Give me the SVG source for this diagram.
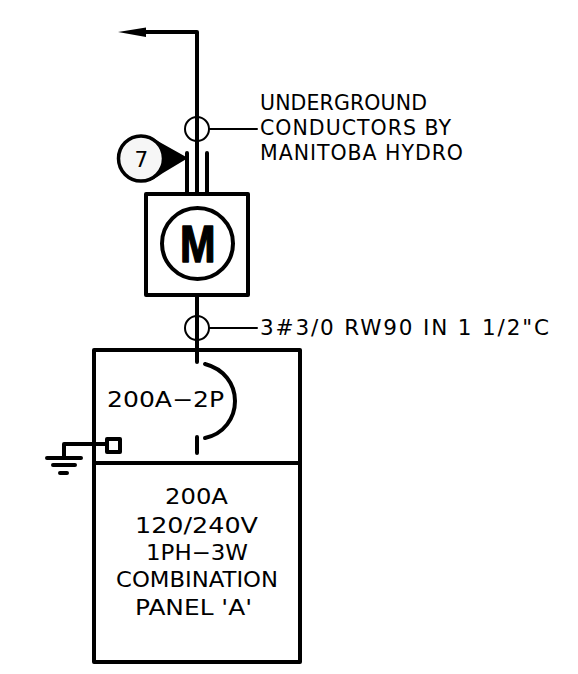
<svg xmlns="http://www.w3.org/2000/svg" width="578" height="674" viewBox="0 0 578 674">
<style>
.t{font-family:"DejaVu Sans",sans-serif;font-size:21.500px;fill:#000}
.u{font-size:20.500px}
.h{fill:none;stroke:#000;stroke-width:4px;stroke-linecap:round;stroke-linejoin:round}
.n{fill:none;stroke:#000;stroke-width:2px;stroke-linecap:round}
</style>
<rect width="578" height="674" fill="#fff"/>
<g id="connectors">
<path class="h" d="M146 32H197V193"/>
<path d="M118 32L146 27.500V37Z" fill="#000"/>
<path class="h" d="M187 153V193M207 153V193"/>
<path class="h" d="M197 295V362M197 437V453"/>
<path class="n" d="M209 129H257M209 328H257"/>
<path class="h" d="M64 457V444H105"/>
<path class="h" d="M47 458H81M53 465H75M60 473H67"/>
</g>
<g id="conduit-upper"><circle cx="197" cy="129" r="12" class="n"/></g>
<g id="conduit-lower"><circle cx="197" cy="328" r="12" class="n"/></g>
<g id="tag-7">
<path d="M141 135C150 135 156 140 163 144L188 158L163 173C156 178 150 182 141 182Z" fill="#000"/>
<circle cx="141" cy="158.500" r="22.500" fill="#f6f6f6" stroke="#000" stroke-width="3.500"/>
<text x="134.500" y="167" class="t">7</text>
</g>
<g id="meter">
<rect x="146" y="194" width="102" height="101" class="h"/>
<circle cx="197.500" cy="243.500" r="35.500" class="h"/>
<text x="180" y="262" textLength="35.500" lengthAdjust="spacingAndGlyphs" style="font-family:'Liberation Sans',Arial,sans-serif;font-size:51px;font-weight:700;stroke:#000;stroke-width:1.500px;stroke-linejoin:round">M</text>
</g>
<g id="panel">
<rect x="94" y="350" width="206" height="312" class="h"/>
<path class="h" d="M94 463H300"/>
</g>
<g id="breaker">
<path class="h" d="M205 364C224 369 235 384 235 401C235 418 224 434 205 438"/>
<text x="107" y="407" class="t" textLength="117" lengthAdjust="spacingAndGlyphs">200A−2P</text>
</g>
<g id="ground-lug"><rect x="107" y="439" width="13" height="13" class="h"/></g>
<g id="labels">
<text x="260" y="110" class="t u" textLength="167">UNDERGROUND</text>
<text x="260" y="135" class="t u" textLength="191">CONDUCTORS BY</text>
<text x="260" y="160" class="t u" textLength="203">MANITOBA HYDRO</text>
<text x="260" y="335" class="t" textLength="289">3#3/0 RW90 IN 1 1/2"C</text>
<text x="165" y="504" class="t" textLength="63" lengthAdjust="spacingAndGlyphs">200A</text>
<text x="135" y="533" class="t" textLength="123" lengthAdjust="spacingAndGlyphs">120/240V</text>
<text x="146" y="560" class="t" textLength="102" lengthAdjust="spacingAndGlyphs">1PH−3W</text>
<text x="116" y="587" class="t" textLength="162" lengthAdjust="spacingAndGlyphs">COMBINATION</text>
<text x="135" y="615" class="t" textLength="117" lengthAdjust="spacingAndGlyphs">PANEL 'A'</text>
</g>
</svg>
